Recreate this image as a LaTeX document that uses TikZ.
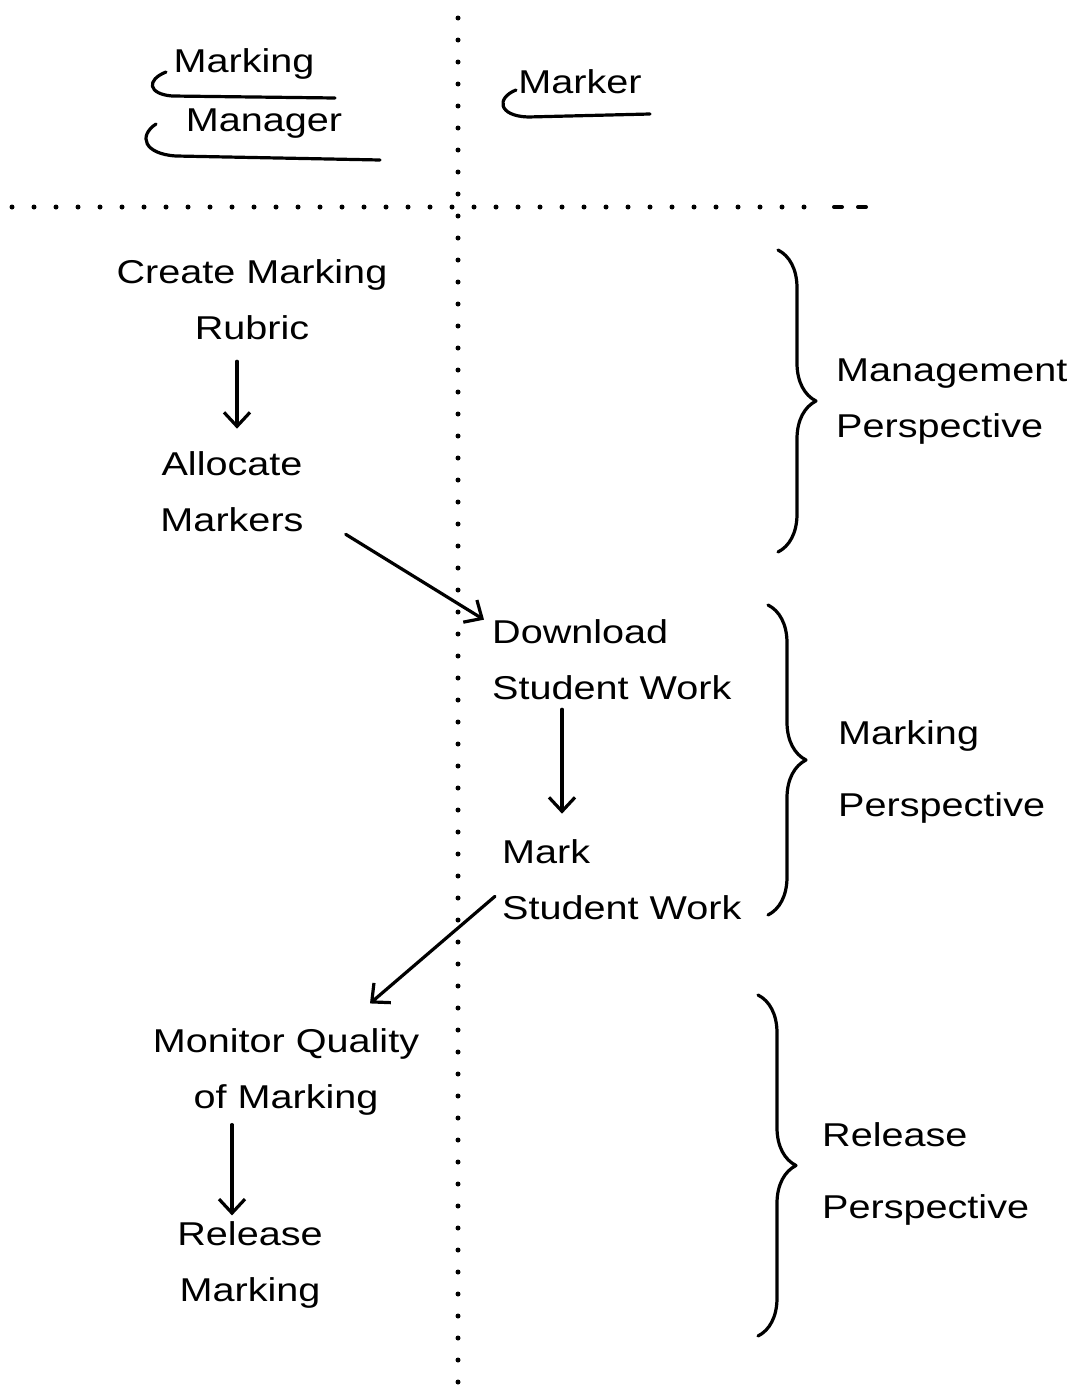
\documentclass[tikz,border=0pt]{standalone}
\usepackage{fontspec}
\setmainfont[FakeStretch=1.2]{Liberation Sans}
\usetikzlibrary{arrows.meta,decorations.pathreplacing}
\begin{document}
\begin{tikzpicture}[x=1pt,y=-1pt,
  pen/.style={line width=3.2pt,line cap=round,line join=round},
  label/.style={font=\fontsize{33}{56}\selectfont,inner sep=0pt},
  widelabel/.style={label,font=\fontsize{33}{72}\selectfont},
  arr/.style={pen,-{Straight Barb[length=14pt,width=26pt,line width=3.2pt]}},
  dots/.style={line width=5pt,line cap=round,dash pattern=on 0pt off 22pt},
  curly/.style={pen,decorate,decoration={brace,amplitude=38pt,aspect=0.5}}]
\useasboundingbox[fill=white] (0,0) rectangle (1069,1392);

% swimlane separators
\coordinate (vtop) at (458,18);
\coordinate (vbot) at (458,1392);
\coordinate (hleft) at (12,207);
\coordinate (hright) at (805,207);
\draw[dots] (vtop) -- (vbot);
\draw[dots] (hleft) -- (hright);
\draw[pen,line width=4pt] (834,207) -- (842,207) (858,207) -- (866,207);

% lane headings with their underlines
\node[label] (mkg) at (244,64) {Marking};
\node[label] (mgr) at (264,124) {Manager};
\node[label] (mkr) at (580,82) {Marker};
\draw[pen] (166,72) .. controls (146,80) and (148,94) .. (172,96) -- (335,98);
\draw[pen] (156,124) .. controls (138,136) and (144,154) .. (176,156) -- (380,160);
\draw[pen] (516,90) .. controls (496,98) and (498,116) .. (528,117) -- (650,114);

% activities
\node[label,align=center] (create) at (252,300) {Create Marking\\Rubric};
\node[label,align=center] (alloc) at (232,492) {Allocate\\Markers};
\node[label,align=left,anchor=west] (download) at (492,660) {Download\\Student Work};
\node[label,align=left,anchor=west] (mark) at (502,880) {Mark\\Student Work};
\node[label,align=center] (monitor) at (286,1072) {Monitor Quality\\of Marking};
\node[label,align=center] (release) at (250,1265) {Release\\Marking};

% flow
\draw[arr] ([xshift=-15pt,yshift=-21pt]create.south) -- ([xshift=5pt,yshift=23pt]alloc.north);
\draw[arr] ([xshift=42pt,yshift=-2pt]alloc.south east) -- ([yshift=0pt,xshift=-8pt]download.north west);
\draw[arr] ([xshift=70pt,yshift=-9pt]download.south west) -- ([xshift=60pt,yshift=26pt]mark.north west);
\draw[arr] ([xshift=-7pt,yshift=24pt]mark.south west) -- ([xshift=84pt,yshift=25pt]monitor.north);
\draw[arr] ([xshift=-54pt,yshift=-9pt]monitor.south) -- ([xshift=-18pt,yshift=6pt]release.north);

% perspectives
\coordinate (b1t) at (778,250);
\coordinate (b1b) at (778,552);
\coordinate (b2t) at (768,605);
\coordinate (b2b) at (768,915);
\coordinate (b3t) at (758,995);
\coordinate (b3b) at (758,1336);
\draw[curly] (b1t) -- (b1b);
\draw[curly] (b2t) -- (b2b);
\draw[curly] (b3t) -- (b3b);
\node[label,align=left,anchor=west] (pman) at (836,402) {Management\\Perspective};
\node[widelabel,align=left,anchor=west] (pmark) at (838,772) {Marking\\Perspective};
\node[widelabel,align=left,anchor=west] (prel) at (822,1174) {Release\\Perspective};
\end{tikzpicture}
\end{document}
